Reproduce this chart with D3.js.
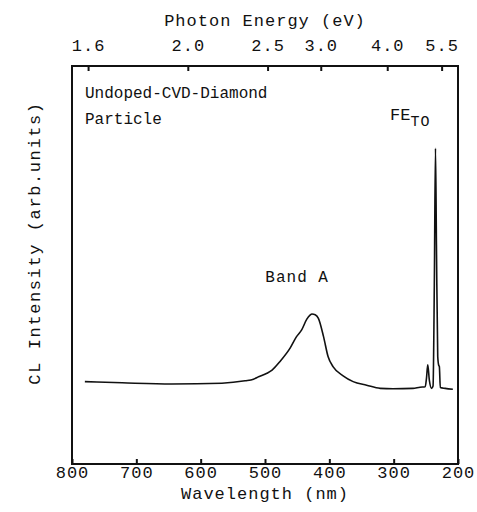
<!DOCTYPE html>
<head>
    <meta charset="utf-8" />
    <title>CL spectrum</title>
</head>
<style>
    body {
        margin: 0;
        background: #fff;
    }
    text {
        font-family: "Liberation Mono", monospace;
        fill: #111;
    }
    .frame {
        fill: none;
        stroke: #111;
        stroke-width: 2px;
    }
    .tick line {
        stroke: #111;
        stroke-width: 2px;
    }
    .domain {
        display: none;
    }
    .curve {
        fill: none;
        stroke: #111;
        stroke-width: 1.6px;
        stroke-linejoin: round;
    }
</style>
<body>
    <svg id="chart" width="477" height="512"></svg>

    <script src="https://d3js.org/d3.v7.min.js"></script>
    <script>
        // spectrum (wavelength nm, intensity arb.)
        var wavelength = [780, 722, 645, 567, 531, 518, 510, 497, 489, 477, 461, 451, 443, 435, 430, 427, 422,
            417, 409, 402, 394, 378, 363, 342, 321, 301, 270, 259, 251, 249, 247, 244.5, 241, 238.8,
            236.8, 235, 233.5, 231.5, 230, 229, 227.5, 220, 208];
        var intensity = [20.7, 20.4, 20.1, 20.3, 20.9, 21.3, 21.9, 22.8, 23.6, 25.7, 29.1, 32.0, 33.7, 36.4, 37.4, 37.7, 37.5,
            36.6, 32.0, 27.0, 24.4, 22.1, 20.7, 19.8, 19.0, 18.9, 19.0, 19.3, 19.4, 21.5, 24.9, 21, 19.0, 19.6,
            45, 79.3, 55, 27, 24.8, 24.5, 19.2, 19.0, 18.8];

        var wlTicks = [800, 700, 600, 500, 400, 300, 200];
        var energyTicks = ["1.6", "2.0", "2.5", "3.0", "4.0", "5.5"];

        var margin = {top: 66, right: 19, bottom: 48, left: 72};
        var width = 477 - margin.left - margin.right,
            height = 512 - margin.top - margin.bottom;

        var svg = d3.select("#chart")
            .append("g")
            .attr("transform", "translate(" + margin.left + "," + margin.top + ")");

        var x = d3.scaleLinear().domain([800, 200]).range([0, width]);
        var y = d3.scaleLinear().domain([0, 100]).range([height, 0]);

        // bottom axis, ticks inward
        var xAxis = d3.axisBottom(x).tickValues(wlTicks).tickSize(-5).tickPadding(2)
            .tickFormat(d3.format("d"));
        var gx = svg.append("g")
            .attr("transform", "translate(0," + height + ")")
            .call(xAxis);
        gx.selectAll("text").attr("font-size", "17px").attr("letter-spacing", "1px");

        // top axis: photon energy, E = 1240 / lambda
        var xTop = d3.axisTop(x)
            .tickValues(energyTicks.map(function(e) { return 1240 / +e; }))
            .tickSize(-5).tickPadding(15)
            .tickFormat(function(d, i) { return energyTicks[i]; });
        var gt = svg.append("g").call(xTop);
        gt.selectAll("text").attr("font-size", "17px").attr("letter-spacing", "1px");

        svg.append("rect")
            .attr("class", "frame")
            .attr("width", width)
            .attr("height", height);

        var line = d3.line()
            .x(function(d) { return x(d[0]); })
            .y(function(d) { return y(d[1]); })
            .curve(d3.curveMonotoneX);

        svg.append("path")
            .datum(d3.zip(wavelength, intensity))
            .attr("class", "curve")
            .attr("d", line);

        // axis titles
        svg.append("text")
            .attr("x", width / 2)
            .attr("y", height + 35)
            .attr("text-anchor", "middle")
            .attr("font-size", "17px")
            .attr("letter-spacing", "1px")
            .text("Wavelength (nm)");

        svg.append("text")
            .attr("x", width / 2)
            .attr("y", -40)
            .attr("text-anchor", "middle")
            .attr("font-size", "17px")
            .attr("letter-spacing", "1px")
            .text("Photon Energy (eV)");

        svg.append("text")
            .attr("transform", "translate(-32," + (height / 2 - 22) + ") rotate(-90)")
            .attr("text-anchor", "middle")
            .attr("font-size", "17px")
            .attr("letter-spacing", "1.6px")
            .text("CL Intensity (arb.units)");

        // annotations
        svg.append("text")
            .attr("x", 13).attr("y", 32)
            .attr("font-size", "16px")
            .text("Undoped-CVD-Diamond");
        svg.append("text")
            .attr("x", 13).attr("y", 58)
            .attr("font-size", "16px")
            .text("Particle");

        svg.append("text")
            .attr("x", x(450)).attr("y", 216)
            .attr("text-anchor", "middle")
            .attr("font-size", "16px")
            .attr("letter-spacing", "1px")
            .text("Band A");

        var fe = svg.append("text")
            .attr("x", 318).attr("y", 54)
            .attr("font-size", "17px");
        fe.append("tspan").text("FE");
        fe.append("tspan").attr("dy", 6).attr("font-size", "15px").attr("letter-spacing", "1px").text("TO");
    </script>
</body>
